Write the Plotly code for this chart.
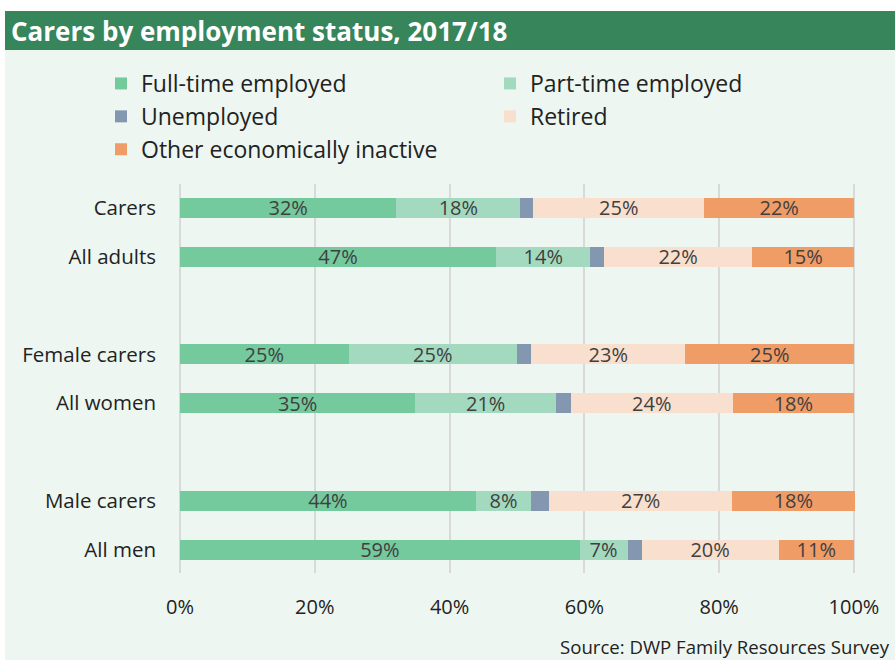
import plotly.graph_objects as go

# Groups shown top to bottom; a blank row sits between each pair
groups = ["Carers", "All adults", "Female carers", "All women", "Male carers", "All men"]
group_pos = [0, 1, 3, 4, 6, 7]

statuses = ["Full-time employed", "Part-time employed", "Unemployed", "Retired",
            "Other economically inactive"]

# Percentages per status, in the order of groups
full_time = [32.1, 46.9, 25.0, 34.9, 43.9, 59.3]
part_time = [18.4, 14.0, 25.0, 20.9, 8.2, 7.1]
unemployed = [1.9, 2.0, 2.1, 2.2, 2.7, 2.1]
retired = [25.4, 22.0, 22.9, 24.0, 27.1, 20.3]
other_inactive = [22.2, 15.1, 25.0, 18.0, 18.2, 11.2]

series = [full_time, part_time, unemployed, retired, other_inactive]
colours = ["#74C99D", "#A3DABF", "#8497B0", "#F9DFCD", "#F09C67"]
labelled = [True, True, False, True, True]
# left column of the legend vs right column
legend_ids = ["legend", "legend2", "legend", "legend2", "legend"]

x_ticks = [0, 20, 40, 60, 80, 100]
x_tick_labels = ["0%", "20%", "40%", "60%", "80%", "100%"]

W, H = 895, 660
L, R, T, B = 179, 40, 184, 87
PW, PH = W - L - R, H - T - B


def px_x(px):
    return (px - L) / PW


def px_y(py):
    return (H - B - py) / PH


FONT = "Open Sans"

fig = go.Figure()
for name, vals, col, lab, leg in zip(statuses, series, colours, labelled, legend_ids):
    fig.add_trace(go.Bar(
        name=name,
        x=vals,
        y=group_pos,
        orientation="h",
        width=0.41,
        marker=dict(color=col, line=dict(width=0)),
        texttemplate="%{x:.0f}%" if lab else "",
        textposition="inside",
        insidetextanchor="middle",
        textangle=0,
        textfont=dict(family=FONT, size=20, color="#404040"),
        hoverinfo="skip",
        legend=leg,
        legendgroup=name,
    ))

shapes = [
    # mint panel
    dict(type="rect", xref="paper", yref="paper", layer="below",
         x0=px_x(5), x1=px_x(W + 5), y0=px_y(H + 5), y1=px_y(50),
         fillcolor="#EDF6F0", line=dict(width=0)),
    # title bar
    dict(type="rect", xref="paper", yref="paper", layer="below",
         x0=px_x(5), x1=px_x(W + 5), y0=px_y(50), y1=px_y(11),
         fillcolor="#37855B", line=dict(width=0)),
]

annotations = [
    dict(text="<b>Carers by employment status, 2017/18</b>", xref="paper", yref="paper",
         x=px_x(9), y=px_y(31), xanchor="left", yanchor="middle", showarrow=False,
         font=dict(family=FONT, size=26, color="white")),
    dict(text="Source: DWP Family Resources Survey", xref="paper", yref="paper",
         x=px_x(892), y=px_y(646), xanchor="right", yanchor="middle", showarrow=False,
         font=dict(family=FONT, size=18.6, color="#222222")),
]

legend_style = dict(
    orientation="v", yanchor="top", xanchor="left", traceorder="normal",
    font=dict(family=FONT, size=23, color="#222222"),
    bgcolor="rgba(0,0,0,0)", tracegroupgap=1, itemclick=False,
)

fig.update_layout(
    width=W, height=H,
    margin=dict(l=L, r=R, t=T, b=B, pad=0),
    barmode="stack",
    paper_bgcolor="white",
    plot_bgcolor="rgba(0,0,0,0)",
    font=dict(family=FONT, size=20, color="#222222"),
    shapes=shapes,
    annotations=annotations,
    uniformtext=dict(minsize=20, mode="show"),
    legend=dict(x=px_x(101), y=px_y(62), **legend_style),
    legend2=dict(x=px_x(490), y=px_y(62), **legend_style),
    xaxis=dict(
        range=[-0.15, 100.15], tickvals=x_ticks, ticktext=x_tick_labels,
        showgrid=True, gridcolor="#D9D9D9", gridwidth=1.5, zeroline=False,
        showline=False, ticks="", ticklabelstandoff=20,
        tickfont=dict(family=FONT, size=20, color="#222222"),
        fixedrange=True,
    ),
    yaxis=dict(
        range=[7.48, -0.49], tickvals=group_pos, ticktext=groups,
        showgrid=False, zeroline=False, showline=False, ticks="",
        ticklabelstandoff=22,
        tickfont=dict(family=FONT, size=20.5, color="#222222"),
        fixedrange=True,
    ),
)

fig.write_html("out.html", config={"displayModeBar": False},
               post_script="document.body.style.margin='0';")
